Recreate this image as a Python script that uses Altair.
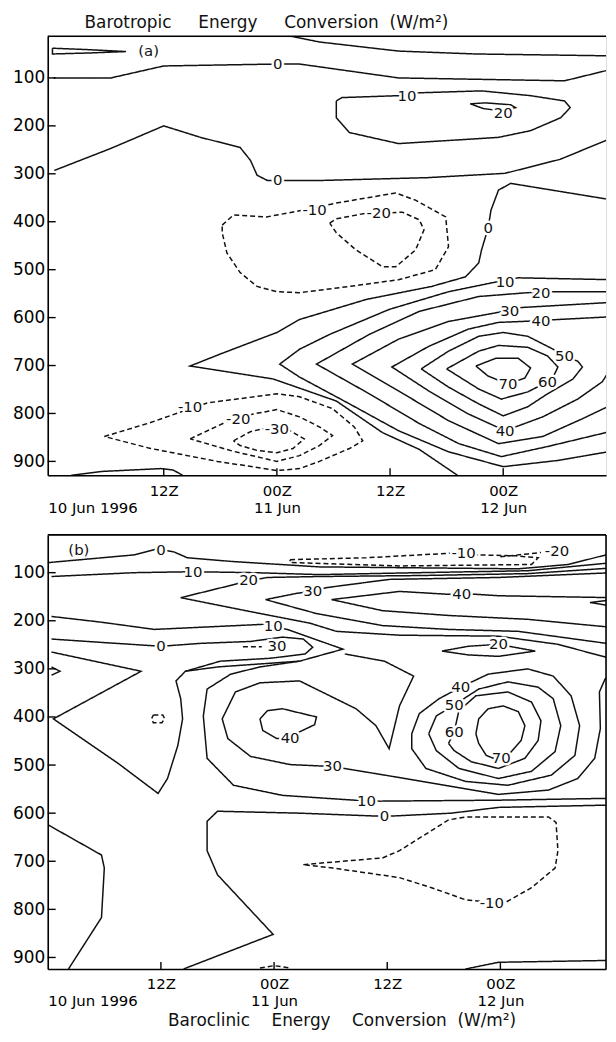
import altair as alt
import pandas as pd

FONT = "DejaVu Sans"

# ------------------------------------------------------------------
# Panel (a): Barotropic energy conversion.  x = hours after 00Z 10 Jun 1996,
# y = pressure (hPa).  Each contour is a polyline.
# ------------------------------------------------------------------
a_top_loop = [(0.2, 38), (4.0, 41), (8.0, 45), (4.0, 48), (0.2, 50)]
a_top_edge = [(25.5, 13), (28.5, 25), (36.9, 44), (45.0, 50), (59.7, 54)]
a_zero_upper = [(0.3, 100), (6.4, 100), (12.0, 75), (24.1, 71), (26.4, 71), (36.9, 100),
                (54.5, 106), (59.7, 81)]
a_zero_mid = [(0.4, 293), (6.4, 247), (12.0, 200), (15.9, 224), (20.1, 245), (21.2, 272),
              (21.9, 303), (23.0, 314), (28.5, 314), (40.0, 308), (48.2, 299), (54.0, 270),
              (59.7, 224)]
a_zero_lobe = [(59.7, 355), (48.8, 320), (47.5, 334), (46.7, 376), (46.4, 413), (45.7, 459),
               (45.4, 486), (44.0, 515), (40.4, 535), (33.5, 562), (26.4, 604), (24.0, 631),
               (18.0, 676), (14.8, 701), (23.6, 728), (30.3, 774), (35.2, 840), (39.1, 875),
               (43.3, 931)]
a_ten_loop = [(30.3, 148), (30.9, 141), (36.9, 137), (39.1, 131), (45.7, 127), (50.9, 137),
              (54.5, 148), (55.1, 162), (54.1, 183), (50.9, 210), (47.5, 224), (36.9, 237),
              (31.7, 214), (30.3, 183)]
a_twenty_sliver = [(44.5, 154), (46.1, 152), (48.8, 156), (49.3, 162), (47.5, 168), (45.9, 164)]
a_ten = [(59.7, 521), (49.6, 517), (46.9, 527), (42.2, 546), (35.9, 583), (29.6, 635),
         (26.4, 666), (24.3, 697), (26.4, 724), (31.7, 780), (36.9, 836), (42.2, 880),
         (48.0, 911), (53.8, 898), (59.7, 878)]
a_twenty = [(59.7, 546), (53.5, 546), (50.6, 548), (45.4, 556), (39.1, 587), (33.8, 635),
            (28.2, 697), (33.8, 759), (39.1, 821), (43.3, 863), (47.8, 890), (52.7, 869),
            (59.7, 836)]
a_thirty = [(59.7, 568), (49.9, 579), (47.5, 589), (42.2, 608), (36.9, 645), (32.0, 697),
            (36.9, 753), (42.2, 815), (47.5, 863), (52.2, 848), (56.4, 811), (59.7, 780)]
a_forty = [(59.7, 598), (53.8, 604), (50.1, 608), (47.5, 610), (44.3, 624), (40.1, 660),
           (36.2, 703), (40.1, 753), (44.3, 801), (48.2, 836), (52.2, 807), (55.9, 770),
           (58.5, 734), (59.7, 697)]
a_fifty = [(39.3, 707), (42.2, 670), (45.4, 639), (48.0, 631), (50.6, 639), (53.3, 666),
           (54.5, 680), (55.9, 691), (56.4, 703), (55.4, 728), (52.7, 759), (50.6, 786),
           (48.0, 805), (45.4, 780), (42.2, 745)]
a_sixty = [(42.0, 707), (45.4, 670), (47.5, 658), (50.6, 662), (52.7, 680), (53.8, 703),
           (53.3, 724), (52.7, 734), (50.6, 755), (47.8, 770), (45.4, 749)]
a_seventy = [(45.1, 701), (47.2, 685), (49.6, 685), (50.9, 705), (50.3, 726), (48.5, 739),
             (46.4, 722)]
a_m10_upper = [(18.2, 407), (19.4, 386), (22.9, 390), (26.7, 376), (30.3, 361), (36.6, 340),
               (38.7, 355), (41.9, 390), (42.2, 452), (40.8, 500), (36.9, 521), (31.7, 535),
               (26.4, 548), (24.0, 546), (21.9, 535), (20.1, 506), (18.7, 465), (18.2, 423)]
a_m20_upper = [(29.6, 403), (30.3, 394), (33.5, 382), (35.2, 382), (37.3, 380), (39.1, 396),
               (39.6, 417), (38.7, 459), (36.6, 494), (35.2, 494), (32.4, 459), (30.3, 423)]
a_m10_lower = [(5.7, 848), (10.6, 819), (14.8, 790), (16.6, 778), (24.0, 759), (26.4, 765),
               (29.9, 790), (32.2, 828), (33.1, 857), (31.7, 873), (28.5, 900), (26.4, 915),
               (24.0, 919), (17.7, 900), (10.6, 873)]
a_m20_lower = [(14.8, 853), (18.7, 817), (19.9, 811), (21.5, 801), (24.0, 792), (26.4, 807),
               (28.5, 828), (29.9, 846), (28.5, 867), (26.4, 888), (24.0, 900), (19.4, 879)]
a_m30_lower = [(19.4, 857), (21.2, 838), (22.5, 832), (24.0, 832), (25.4, 836), (26.9, 853),
               (25.7, 873), (24.0, 882), (21.9, 877), (20.1, 867)]
a_bottom_strip = [(2.2, 929), (5.4, 921), (11.7, 915), (13.0, 918), (14.0, 929)]

# (name, contour level, closed?, points)
A_LINES = [
    ("a_top_loop", 0, True, a_top_loop), ("a_top_edge", 0, False, a_top_edge),
    ("a_zero_upper", 0, False, a_zero_upper), ("a_zero_mid", 0, False, a_zero_mid),
    ("a_zero_lobe", 0, False, a_zero_lobe), ("a_ten_loop", 10, True, a_ten_loop),
    ("a_twenty_sliver", 20, True, a_twenty_sliver), ("a_ten", 10, False, a_ten),
    ("a_twenty", 20, False, a_twenty), ("a_thirty", 30, False, a_thirty),
    ("a_forty", 40, False, a_forty), ("a_fifty", 50, True, a_fifty),
    ("a_sixty", 60, True, a_sixty), ("a_seventy", 70, True, a_seventy),
    ("a_m10_upper", -10, True, a_m10_upper), ("a_m20_upper", -20, True, a_m20_upper),
    ("a_m10_lower", -10, True, a_m10_lower), ("a_m20_lower", -20, True, a_m20_lower),
    ("a_m30_lower", -30, True, a_m30_lower), ("a_bottom_strip", 0, False, a_bottom_strip),
]
a_label_text = ["0", "0", "0", "10", "20", "10", "20", "30", "40", "50", "60", "70", "40",
                "-10", "-20", "-10", "-20", "-30"]
a_label_h = [24.1, 24.1, 46.4, 37.8, 48.0, 48.2, 52.0, 48.7, 52.0, 54.5, 52.7, 48.5, 48.2,
             28.0, 34.8, 14.8, 19.9, 24.0]
a_label_p = [71, 314, 413, 137, 173, 525, 548, 587, 608, 680, 734, 739, 836,
             376, 381, 786, 811, 832]

# ------------------------------------------------------------------
# Panel (b): Baroclinic energy conversion
# ------------------------------------------------------------------
b_top0 = [(0.1, 79), (9.2, 63), (11.3, 52), (12.0, 52), (13.4, 57), (14.8, 69), (19.7, 77),
          (28.8, 88), (39.4, 90), (49.9, 92), (55.2, 83), (60.0, 59)]
b_top10 = [(0.4, 108), (9.2, 100), (15.4, 98), (21.8, 100), (28.8, 104), (39.4, 100),
           (50.9, 96), (60.0, 79)]
b_twenty = [(60.0, 90), (50.9, 102), (39.4, 106), (28.8, 108), (23.3, 110), (21.3, 117),
            (19.7, 125), (14.1, 152), (21.5, 181), (27.8, 205), (30.6, 222), (37.3, 230),
            (47.8, 232), (54.1, 249), (60.0, 280)]
b_thirty = [(60.0, 100), (47.8, 110), (36.2, 114), (29.6, 131), (28.1, 139), (26.4, 143),
            (23.1, 156), (28.5, 185), (35.5, 210), (42.5, 218), (49.9, 222), (60.0, 249)]
b_forty = [(60.0, 152), (47.8, 148), (45.4, 145), (43.9, 145), (42.5, 145), (37.3, 139),
           (30.1, 156), (35.5, 179), (42.5, 189), (50.9, 197), (60.0, 214)]
b_edge_wedge = [(60.0, 156), (57.5, 162), (60.0, 170)]
b_m10_top = [(25.7, 73), (33.8, 69), (43.3, 59), (45.4, 63), (49.6, 65), (52.0, 69),
             (51.3, 83), (37.3, 86), (25.7, 79)]
b_m20_top = [(48.0, 67), (50.9, 61), (52.3, 58)]
b_zero_b = [(0.4, 238), (5.7, 245), (12.0, 253), (16.2, 247), (21.5, 243), (24.9, 234),
            (27.1, 238), (28.1, 255), (27.3, 269), (23.6, 278), (18.3, 284), (14.6, 305)]
b_ten_big = [(0.4, 191), (5.7, 203), (11.3, 218), (23.3, 207), (23.9, 212), (25.4, 218),
             (31.3, 259), (26.7, 284), (18.0, 296), (14.6, 305), (13.6, 325), (14.1, 362),
             (14.3, 404), (13.8, 459), (12.7, 528), (11.7, 559), (7.5, 497), (0.6, 404),
             (9.9, 305), (0.4, 265)]
b_axis_nub = [(0.4, 296), (1.3, 305), (0.4, 313)]
b_ring10 = [(60.0, 569), (47.8, 573), (35.2, 575), (32.5, 573), (24.9, 563), (19.7, 542),
            (16.9, 486), (16.5, 398), (16.9, 342), (19.4, 311), (22.5, 296), (26.7, 284)]
b_ring30 = [(31.5, 269), (35.7, 284), (38.8, 315), (37.3, 377), (36.2, 466), (34.8, 418),
            (32.7, 383), (26.7, 325), (22.5, 329), (19.9, 348), (18.5, 404), (19.1, 445),
            (21.5, 482), (25.7, 499), (30.2, 503), (37.3, 526), (47.8, 561), (53.1, 552),
            (56.2, 528), (58.0, 486), (58.6, 424), (58.5, 348), (59.1, 321), (60.0, 311)]
b_left40 = [(22.5, 404), (23.3, 387), (24.9, 383), (28.5, 400), (28.3, 416), (26.7, 431),
            (25.7, 443), (24.3, 445), (22.8, 428)]
b_right40 = [(38.6, 435), (39.4, 393), (41.5, 362), (43.8, 338), (46.7, 311), (50.9, 300),
             (53.6, 315), (55.5, 356), (56.4, 418), (55.9, 480), (53.4, 521), (48.8, 542),
             (44.3, 534), (40.1, 507), (38.6, 466)]
b_right50 = [(40.4, 435), (41.2, 398), (43.1, 375), (45.7, 342), (48.8, 327), (52.0, 338),
             (53.6, 362), (54.4, 418), (53.8, 472), (51.3, 513), (47.8, 528), (43.6, 507),
             (41.2, 470)]
b_right60 = [(42.5, 455), (43.1, 431), (43.6, 387), (45.4, 356), (48.8, 348), (51.3, 369),
             (52.3, 408), (52.0, 449), (50.6, 486), (47.8, 507), (44.9, 493), (43.1, 470)]
b_right70 = [(45.4, 435), (45.7, 404), (46.7, 383), (48.3, 377), (49.9, 389), (50.6, 418),
             (50.2, 449), (48.8, 480), (47.8, 490), (46.5, 480), (45.7, 455)]
b_sliver20 = [(41.8, 263), (44.6, 253), (47.8, 249), (51.7, 263), (47.8, 274), (44.6, 271)]
b_zero_low = [(60.0, 583), (47.8, 588), (42.8, 600), (36.5, 606), (34.8, 606), (26.7, 600),
              (18.0, 596), (16.9, 617), (16.9, 678), (18.0, 728), (23.9, 852), (14.4, 924)]
b_m10_low = [(27.1, 707), (35.5, 693), (37.3, 678), (42.5, 614), (44.3, 608), (53.1, 608),
             (53.9, 619), (54.1, 678), (53.8, 714), (51.3, 755), (48.5, 786), (47.1, 786),
             (44.3, 780), (40.7, 755), (37.3, 734), (30.2, 714)]
b_left_bottom = [(0.1, 625), (5.7, 687), (6.0, 714), (5.7, 817), (2.2, 924)]
b_right_bottom = [(44.3, 924), (47.8, 910), (60.0, 906)]
b_tiny = [(11.2, 396), (12.2, 396), (12.4, 404), (12.1, 412), (11.2, 412), (11.0, 404)]
b_dash30 = [(20.7, 254), (22.7, 254)]
b_bottom_dash = [(22.5, 922), (24.0, 917), (25.7, 922)]

B_LINES = [
    ("b_top0", 0, False, b_top0), ("b_top10", 10, False, b_top10),
    ("b_twenty", 20, False, b_twenty), ("b_thirty", 30, False, b_thirty),
    ("b_forty", 40, False, b_forty), ("b_edge_wedge", 50, False, b_edge_wedge),
    ("b_m10_top", -10, True, b_m10_top), ("b_m20_top", -20, False, b_m20_top),
    ("b_zero_b", 0, False, b_zero_b), ("b_ten_big", 10, False, b_ten_big),
    ("b_axis_nub", 0, False, b_axis_nub), ("b_ring10", 10, False, b_ring10),
    ("b_ring30", 30, False, b_ring30), ("b_left40", 40, True, b_left40),
    ("b_right40", 40, True, b_right40), ("b_right50", 50, True, b_right50),
    ("b_right60", 60, True, b_right60), ("b_right70", 70, True, b_right70),
    ("b_sliver20", 20, True, b_sliver20), ("b_zero_low", 0, False, b_zero_low),
    ("b_m10_low", -10, True, b_m10_low), ("b_left_bottom", 0, False, b_left_bottom),
    ("b_right_bottom", 0, False, b_right_bottom), ("b_tiny", -10, True, b_tiny),
    ("b_dash30", -30, False, b_dash30), ("b_bottom_dash", -10, False, b_bottom_dash),
]
b_label_text = ["0", "10", "20", "30", "40", "-10", "-20", "10", "0", "30", "20",
                "40", "50", "60", "70", "40", "30", "10", "0", "-10"]
b_label_h = [12.0, 15.4, 21.3, 28.1, 43.9, 44.1, 54.0, 23.9, 12.0, 24.3, 47.8,
             43.8, 43.1, 43.1, 48.1, 25.7, 30.2, 33.8, 35.7, 47.1]
b_label_p = [52, 98, 115, 139, 145, 60, 56, 210, 253, 253, 249,
             338, 375, 431, 486, 443, 503, 575, 606, 786]

# axis ticks and labels
X_TICKS = [12, 24, 36, 48]
P_TICKS = [100, 200, 300, 400, 500, 600, 700, 800, 900]
LABEL_EXPR = ("datum.value < 6 ? ['', '10 Jun 1996'] : "
              "(datum.value == 12 || datum.value == 36) ? '12Z' : "
              "datum.value == 24 ? ['00Z', '11 Jun'] : ['00Z', '12 Jun']")


def lines_frame(lines):
    rows = []
    for name, level, closed, pts in lines:
        seq = list(pts) + ([pts[0]] if closed else [])
        for i, (h, p) in enumerate(seq):
            rows.append({"id": name, "i": i, "h": h, "p": p,
                         "kind": "dashed" if level < 0 else "solid"})
    return pd.DataFrame(rows)


def panel(lines, texts, hs, ps, tag, tag_h, tag_p, xdom, ydom, W, H, title, right_border):
    x_axis = alt.Axis(values=[xdom[0]] + X_TICKS, labelExpr=LABEL_EXPR, labelFontSize=15,
                      labelLineHeight=17, labelPadding=8, labelFlush=True, labelAngle=0,
                      labelOverlap=False, title=None, ticks=False, tickSize=0, grid=False,
                      domainColor="black", domainWidth=1.6, labelColor="black",
                      labelFont=FONT, labelBaseline="top")
    y_axis = alt.Axis(values=P_TICKS, labelFontSize=17, labelPadding=3, ticks=False,
                      tickSize=0, title=None, grid=False, domainColor="black",
                      domainWidth=1.6, labelColor="black", labelFont=FONT,
                      labelOverlap=False, labelFlush=False)
    X = alt.X("h:Q", scale=alt.Scale(domain=xdom, nice=False, zero=False), axis=x_axis)
    Y = alt.Y("p:Q", scale=alt.Scale(domain=ydom, reverse=True, nice=False, zero=False),
              axis=y_axis)

    df = lines_frame(lines)
    contour = alt.Chart(df).mark_line(clip=True, strokeWidth=1.5, color="#111").encode(
        x=X, y=Y, detail="id:N", order="i:Q",
        strokeDash=alt.StrokeDash("kind:N", scale=alt.Scale(domain=["solid", "dashed"],
                                                            range=[[1, 0], [5, 3]]),
                                  legend=None))
    xt = alt.Chart(pd.DataFrame({"h": X_TICKS})).mark_rule(color="black", strokeWidth=1.4).encode(
        x=X, y=alt.value(H - 7), y2=alt.value(H))
    yt = alt.Chart(pd.DataFrame({"p": P_TICKS})).mark_rule(color="black", strokeWidth=1.4).encode(
        y=Y, x=alt.value(0), x2=alt.value(8))
    one = pd.DataFrame({"z": [0]})
    top = alt.Chart(one).mark_rule(color="black", strokeWidth=1.6).encode(
        x=alt.value(0), x2=alt.value(W), y=alt.value(0))
    lab = pd.DataFrame({"t": texts, "h": hs, "p": ps})
    halo = alt.Chart(lab).mark_text(font=FONT, fontSize=15, color="white", stroke="white",
                                    strokeWidth=5, strokeJoin="round").encode(
        x=X, y=Y, text="t:N")
    txt = alt.Chart(lab).mark_text(font=FONT, fontSize=15, color="#111").encode(
        x=X, y=Y, text="t:N")
    tagdf = pd.DataFrame({"t": [tag], "h": [tag_h], "p": [tag_p]})
    tagm = alt.Chart(tagdf).mark_text(font=FONT, fontSize=15, color="#111").encode(
        x=X, y=Y, text="t:N")
    layers = [contour, xt, yt, top, halo, txt, tagm]
    if right_border:
        layers.append(alt.Chart(one).mark_rule(color="black", strokeWidth=1.6).encode(
            x=alt.value(W), y=alt.value(0), y2=alt.value(H)))
    return alt.layer(*layers).properties(width=W, height=H, title=title)


W = 562
NB = "\u00a0"
title_a = alt.TitleParams(
    text="Barotropic" + NB * 5 + "Energy" + NB * 5 + "Conversion" + NB * 2 + "(W/m²)",
    anchor="start", frame="group", dx=37, offset=3, fontSize=17, font=FONT,
    fontWeight="normal", color="#111")
title_b = alt.TitleParams(
    text="Baroclinic" + NB * 4 + "Energy" + NB * 4 + "Conversion" + NB * 2 + "(W/m²)",
    orient="bottom", anchor="start", frame="group", dx=121, offset=4, fontSize=17,
    font=FONT, fontWeight="normal", color="#111")

pa = panel(A_LINES, a_label_text, a_label_h, a_label_p, "(a)", 10.4, 44,
           [-0.3, 58.9], [13, 929], W, 442, title_a, False)
pb = panel(B_LINES, b_label_text, b_label_h, b_label_p, "(b)", 3.3, 52,
           [0, 59.2], [21.5, 924], W, 437, title_b, True)

chart = alt.vconcat(pa, pb, spacing=60, bounds="flush").properties(
    padding={"left": 4, "top": 2, "right": 0, "bottom": 0}
).configure_view(stroke=None).configure(background="white")

chart.save("out.html", embed_options={"renderer": "svg", "actions": False})
